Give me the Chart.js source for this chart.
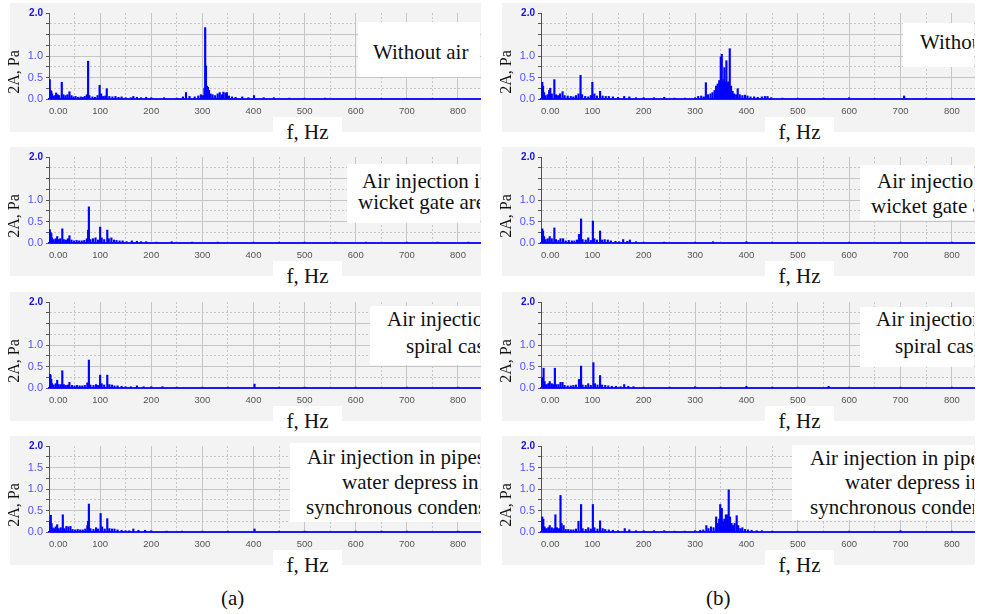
<!DOCTYPE html>
<html>
<head>
<meta charset="utf-8">
<script src="https://cdn.jsdelivr.net/npm/chart.js"></script>
<style>
  body { margin: 0; background: #fff; width: 985px; height: 614px; position: relative; overflow: hidden; }
  .panel { position: absolute; }
  .bg { position: absolute; left: 0; top: 0; background: #f3f3f3; }
  .panel canvas { position: absolute; }
  .clip { position: absolute; left: 0; top: 0; overflow: hidden; }
  .box { position: absolute; background: #fff; }
  .line { position: absolute; white-space: nowrap; font: 21px "Liberation Serif", "Times New Roman", serif; color: #111; line-height: 21px; }
  .fhz { position: absolute; background: #fff; font: 21px "Liberation Serif", serif; color: #111; text-align: center; line-height: 30px; }
  .ytitle { position: absolute; font: 16px "Liberation Serif", serif; color: #111; transform: rotate(-90deg); white-space: nowrap; }
  .cap { position: absolute; font: 21px "Liberation Serif", serif; color: #111; }
</style>
</head>
<body>
<script>
// peak amplitudes: [frequency Hz, 2A Pa]
var peaksA1 = [[0.5,0.22],[1.5,0.45],[3,0.2],[4.5,0.18],[6,0.12],[8,0.06],[11,0.08],[14,0.14],[17,0.1],[20,0.08],[25,0.39],[28,0.1],[32,0.08],[36,0.1],[40,0.17],[44,0.08],[48,0.05],[52,0.06],[57,0.04],[62,0.05],[66,0.04],[70,0.06],[74,0.1],[76.5,0.88],[79,0.08],[85,0.05],[90,0.04],[95,0.08],[99,0.32],[102,0.12],[106,0.06],[110,0.07],[113,0.24],[118,0.06],[124,0.05],[130,0.06],[136,0.04],[142,0.05],[150,0.03],[160,0.03],[165,0.06],[172,0.04],[180,0.03],[190,0.04],[200,0.03],[225,0.03],[250,0.02],[262,0.05],[268,0.15],[275,0.06],[285,0.05],[292,0.07],[297,0.1],[301,0.08],[304,0.25],[305.5,1.66],[307,0.77],[309,0.3],[311,0.27],[313,0.2],[316,0.12],[320,0.1],[325,0.08],[330,0.12],[334,0.15],[338,0.1],[341,0.16],[345,0.14],[348,0.15],[352,0.07],[358,0.05],[365,0.04],[378,0.05],[390,0.03],[401,0.08],[420,0.03],[440,0.03],[470,0.02],[500,0.02],[540,0.02],[600,0.02],[650,0.015],[700,0.015],[750,0.015],[800,0.015]];
var peaksB1 = [[1,0.25],[2.5,0.39],[4,0.3],[6,0.15],[9,0.08],[13,0.1],[16,0.2],[18,0.25],[21,0.12],[26,0.45],[29,0.1],[33,0.08],[37,0.12],[42,0.17],[46,0.08],[52,0.07],[58,0.06],[63,0.05],[68,0.08],[73,0.12],[77,0.55],[80,0.1],[86,0.06],[92,0.05],[97,0.08],[100,0.39],[104,0.12],[109,0.07],[115,0.18],[120,0.07],[126,0.06],[132,0.06],[140,0.05],[150,0.04],[162,0.06],[172,0.05],[185,0.03],[200,0.03],[220,0.03],[240,0.04],[260,0.02],[280,0.02],[300,0.03],[306,0.06],[312,0.07],[317,0.05],[321,0.38],[325,0.1],[330,0.12],[334,0.15],[338,0.2],[341,0.3],[344,0.35],[347,0.43],[349,0.3],[350,0.98],[352,1.04],[354,0.4],[356,0.45],[357,0.73],[359,0.4],[361,0.89],[363,0.35],[364.5,0.4],[366,0.3],[367.5,1.17],[370,0.3],[373,0.18],[376,0.12],[380,0.1],[383,0.24],[387,0.1],[392,0.08],[397,0.09],[402,0.07],[408,0.05],[415,0.05],[422,0.04],[430,0.05],[436,0.06],[441,0.06],[448,0.03],[470,0.02],[500,0.02],[550,0.02],[600,0.03],[650,0.015],[707,0.07],[750,0.02],[800,0.02]];
var peaksA2 = [[0.5,0.28],[1.5,0.31],[3,0.25],[4.5,0.22],[6,0.12],[9,0.08],[13,0.1],[16,0.15],[19,0.08],[22,0.1],[26,0.33],[29,0.08],[33,0.07],[37,0.1],[40,0.17],[44,0.07],[49,0.05],[54,0.06],[59,0.05],[64,0.05],[69,0.06],[74,0.1],[76.5,0.3],[78,0.84],[81,0.08],[86,0.1],[91,0.12],[96,0.07],[100,0.37],[103,0.12],[108,0.08],[114,0.3],[117,0.1],[122,0.12],[127,0.07],[132,0.06],[138,0.05],[144,0.05],[152,0.03],[162,0.05],[172,0.04],[180,0.03],[190,0.03],[210,0.02],[240,0.03],[280,0.02],[330,0.02],[400,0.02],[450,0.02],[500,0.02],[560,0.02],[620,0.02],[700,0.02],[760,0.02],[820,0.02]];
var peaksB2 = [[1,0.25],[2.5,0.33],[4,0.28],[6,0.15],[9,0.08],[13,0.1],[17,0.15],[21,0.1],[26,0.35],[29,0.08],[34,0.06],[38,0.1],[43,0.1],[48,0.05],[54,0.06],[60,0.05],[65,0.05],[70,0.07],[74,0.2],[78,0.56],[81,0.08],[87,0.07],[92,0.12],[97,0.06],[101,0.51],[104,0.1],[109,0.07],[115,0.28],[119,0.07],[124,0.08],[130,0.07],[136,0.05],[145,0.04],[152,0.03],[160,0.08],[168,0.04],[173,0.07],[185,0.03],[200,0.02],[240,0.02],[300,0.02],[335,0.03],[400,0.03],[450,0.02],[500,0.02],[600,0.02],[700,0.02],[800,0.02]];
var peaksA3 = [[0.5,0.3],[1.5,0.32],[3,0.3],[4.5,0.2],[6,0.1],[9,0.07],[13,0.1],[16,0.18],[19,0.08],[23,0.08],[26,0.4],[29,0.08],[33,0.06],[37,0.07],[40,0.13],[45,0.06],[50,0.05],[55,0.06],[60,0.05],[65,0.05],[70,0.06],[75,0.12],[78,0.65],[81,0.07],[87,0.06],[92,0.08],[96,0.06],[100,0.3],[103,0.1],[108,0.07],[114,0.3],[118,0.08],[123,0.07],[128,0.05],[134,0.05],[142,0.04],[150,0.03],[160,0.03],[172,0.05],[185,0.03],[200,0.03],[222,0.03],[250,0.02],[300,0.02],[350,0.02],[402,0.09],[450,0.02],[500,0.02],[600,0.02],[700,0.02],[800,0.02]];
var peaksB3 = [[1,0.2],[3,0.25],[5,0.46],[7,0.15],[10,0.08],[14,0.1],[17,0.15],[21,0.1],[24,0.08],[27,0.46],[30,0.08],[34,0.08],[38,0.13],[42,0.13],[46,0.06],[52,0.05],[58,0.05],[63,0.06],[68,0.07],[74,0.2],[78,0.51],[81,0.07],[87,0.06],[92,0.1],[97,0.06],[102,0.59],[105,0.1],[110,0.07],[115,0.29],[119,0.07],[125,0.06],[131,0.05],[138,0.04],[146,0.04],[155,0.03],[162,0.08],[170,0.04],[180,0.03],[200,0.02],[250,0.02],[300,0.03],[350,0.02],[400,0.04],[450,0.02],[500,0.02],[560,0.04],[600,0.02],[700,0.02],[800,0.02]];
var peaksA4 = [[0.5,0.2],[1.5,0.25],[3.5,0.39],[5,0.2],[7,0.1],[10,0.08],[13,0.12],[16,0.17],[19,0.08],[23,0.1],[27,0.4],[30,0.08],[34,0.13],[38,0.12],[42,0.13],[46,0.06],[51,0.05],[56,0.06],[61,0.05],[66,0.05],[71,0.07],[75,0.15],[76.5,0.25],[78,0.65],[81,0.08],[87,0.06],[92,0.1],[96,0.07],[101,0.43],[104,0.12],[109,0.07],[114,0.31],[118,0.08],[123,0.07],[128,0.07],[134,0.05],[142,0.04],[150,0.03],[157,0.03],[165,0.07],[175,0.04],[188,0.04],[200,0.03],[230,0.02],[260,0.02],[300,0.02],[350,0.02],[402,0.07],[450,0.02],[500,0.02],[600,0.02],[650,0.02],[700,0.02],[800,0.02]];
var peaksB4 = [[1,0.2],[2.5,0.35],[4.5,0.3],[7,0.12],[10,0.08],[14,0.1],[17,0.15],[21,0.1],[25,0.08],[28,0.4],[31,0.1],[35,0.08],[38,0.85],[40,0.2],[44,0.15],[48,0.06],[53,0.06],[58,0.05],[63,0.05],[68,0.07],[73,0.25],[78,0.64],[81,0.08],[87,0.06],[92,0.1],[97,0.07],[101,0.64],[104,0.1],[110,0.07],[115,0.26],[120,0.08],[125,0.06],[132,0.05],[140,0.04],[150,0.03],[163,0.08],[172,0.05],[185,0.03],[200,0.03],[220,0.03],[240,0.03],[260,0.02],[280,0.02],[300,0.03],[310,0.04],[316,0.05],[322,0.15],[326,0.08],[331,0.12],[336,0.1],[341,0.35],[344,0.2],[347,0.3],[349,0.64],[351,0.3],[352,0.55],[355,0.25],[357,0.3],[360,0.4],[362,0.25],[364,0.4],[365.5,0.98],[368,0.35],[371,0.2],[374,0.15],[377,0.2],[381,0.38],[384,0.15],[388,0.08],[392,0.1],[397,0.06],[403,0.05],[410,0.04],[420,0.03],[430,0.03],[450,0.02],[500,0.02],[600,0.02],[700,0.03],[800,0.02]];

var xLabels = { 0: '0.00', 100: '100', 200: '200', 300: '300', 400: '400', 500: '500', 600: '600', 700: '700', 800: '800' };
var yLabels = { 0: '0.0', 0.5: '0.5', 1: '1.0', 1.5: '1.5', 2: '2.0' };
var titlesRow = [
  ['Without air'],
  ['Air injection in', 'wicket gate area'],
  ['Air injection in', 'spiral case'],
  ['Air injection in pipes,', 'water depress in', 'synchronous condenser']
];
var captions = ['(a)', '(b)'];

// layout
var axisX = [49, 541], rightX = [481, 975];
var rowTop = [12, 156, 301, 445], plotH = 87;
// text box per panel: [boxLeft, boxTop, boxBottom] relative to axis/rowTop, then line starts [dx, dy]
var boxes = [
  [[309, 10, 65, [[324, 41]]], [362, 11, 55, [[379, 31]]]],
  [[298, 8, 67, [[313, 26], [309, 47]]], [319, 9, 64, [[336, 26], [330, 51]]]],
  [[321, 5, 64, [[338, 19], [357, 46]]], [319, 6, 66, [[335, 19], [354, 46]]]],
  [[241, -2, 77, [[258, 13], [293, 38], [257, 63]]], [251, 0, 75, [[269, 14], [304, 38], [269, 63]]]]
];
var series = [[peaksA1, peaksB1], [peaksA2, peaksB2], [peaksA3, peaksB3], [peaksA4, peaksB4]];

Chart.defaults.font.family = '"Liberation Sans", Arial, sans-serif';

function makePanel(r, c) {
  var L = axisX[c] - 39, T = rowTop[r] - 9, W = rightX[c] - L;
  var p = document.createElement('div');
  p.className = 'panel';
  p.style.left = L + 'px'; p.style.top = T + 'px';
  p.style.width = W + 'px'; p.style.height = '145px';
  document.body.appendChild(p);

  var bg = document.createElement('div');
  bg.className = 'bg';
  bg.style.width = W + 'px'; bg.style.height = '129px';
  p.appendChild(bg);

  var cv = document.createElement('canvas');
  var cw = rightX[c] - (axisX[c] - 40), ch = 8 + plotH + 22;
  cv.width = cw; cv.height = ch;
  cv.style.left = '-1px'; cv.style.top = '1px';
  cv.style.width = cw + 'px'; cv.style.height = ch + 'px';
  p.appendChild(cv);

  var clip = document.createElement('div');
  clip.className = 'clip';
  clip.style.width = (W - 1) + 'px'; clip.style.height = '129px';
  p.appendChild(clip);
  var b = boxes[r][c];
  var box = document.createElement('div');
  box.className = 'box';
  box.style.left = (b[0] + 39) + 'px'; box.style.top = (b[1] + 9) + 'px';
  box.style.width = '300px'; box.style.height = (b[2] - b[1]) + 'px';
  clip.appendChild(box);
  titlesRow[r].forEach(function (t, i) {
    var d = document.createElement('div');
    d.className = 'line';
    d.textContent = t;
    d.style.left = (b[3][i][0] + 39) + 'px';
    d.style.top = (b[3][i][1] + 9 - 11) + 'px';
    clip.appendChild(d);
  });

  var fz = document.createElement('div');
  fz.className = 'fhz';
  fz.textContent = 'f, Hz';
  fz.style.left = (224 + 39) + 'px'; fz.style.top = (105 + 9) + 'px';
  fz.style.width = '69px'; fz.style.height = '31px';
  p.appendChild(fz);

  var yt = document.createElement('div');
  yt.className = 'ytitle';
  yt.textContent = '2A, Pa';
  yt.style.left = (4 - 22) + 'px'; yt.style.top = (60 + 9 - 9) + 'px';
  yt.style.width = '44px'; yt.style.textAlign = 'center';
  p.appendChild(yt);

  var showMid = (r === 3);
  new Chart(cv, {
    type: 'bar',
    data: {
      datasets: [{
        data: series[r][c].map(function (d) { return { x: d[0], y: d[1] }; }),
        backgroundColor: '#0000ff',
        borderWidth: 0,
        barThickness: 1.5
      }]
    },
    options: {
      responsive: false,
      animation: false,
      layout: { padding: { top: 8, left: 0, right: 0, bottom: 0 } },
      plugins: { legend: { display: false }, tooltip: { enabled: false } },
      scales: {
        x: {
          type: 'linear', min: 0, max: 845, offset: false,
          afterFit: function (s) { s.height = 22; },
          ticks: {
            stepSize: 50, autoSkip: false, maxRotation: 0, includeBounds: false, padding: 7,
            color: '#555', font: { size: 9.5 },
            callback: function (v) {
              var t = xLabels[v];
              if (!t) return '';
              return v === 0 ? '       ' + t : t;
            }
          },
          grid: { color: '#c6c6c6', lineWidth: 1, drawTicks: false, offset: false },
          border: {
            color: '#1a1aff', width: 2,
            dash: function (ctx) { return ctx.tick && ctx.tick.value % 100 ? [2, 2] : []; }
          }
        },
        y: {
          min: 0, max: 2,
          afterFit: function (s) { s.width = 40; },
          ticks: {
            stepSize: 0.25, autoSkip: false, padding: 3,
            color: function (ctx) { return ctx.tick.value === 2 ? '#1010e0' : '#5252ff'; },
            font: function (ctx) { return ctx.tick && ctx.tick.value === 2 ? { size: 10, weight: 'bold' } : { size: 11 }; },
            callback: function (v) {
              if (v === 1.5 && !showMid) return '';
              return yLabels[v] || '';
            }
          },
          grid: {
            color: function (ctx) { return ctx.tick && ctx.tick.value === 2 ? 'rgba(0,0,0,0)' : '#c6c6c6'; },
            tickColor: '#555', tickLength: 3, lineWidth: 1
          },
          border: {
            color: '#555', width: 1,
            dash: function (ctx) { return ctx.tick && ctx.tick.value % 0.5 ? [2, 2] : []; }
          }
        }
      }
    }
  });
}

for (var r = 0; r < 4; r++) for (var c = 0; c < 2; c++) makePanel(r, c);

[235, 720].forEach(function (x, i) {
  var d = document.createElement('div');
  d.className = 'cap';
  d.textContent = captions[i];
  d.style.left = (x - 14) + 'px'; d.style.top = '586px';
  document.body.appendChild(d);
});
</script>
</body>
</html>
